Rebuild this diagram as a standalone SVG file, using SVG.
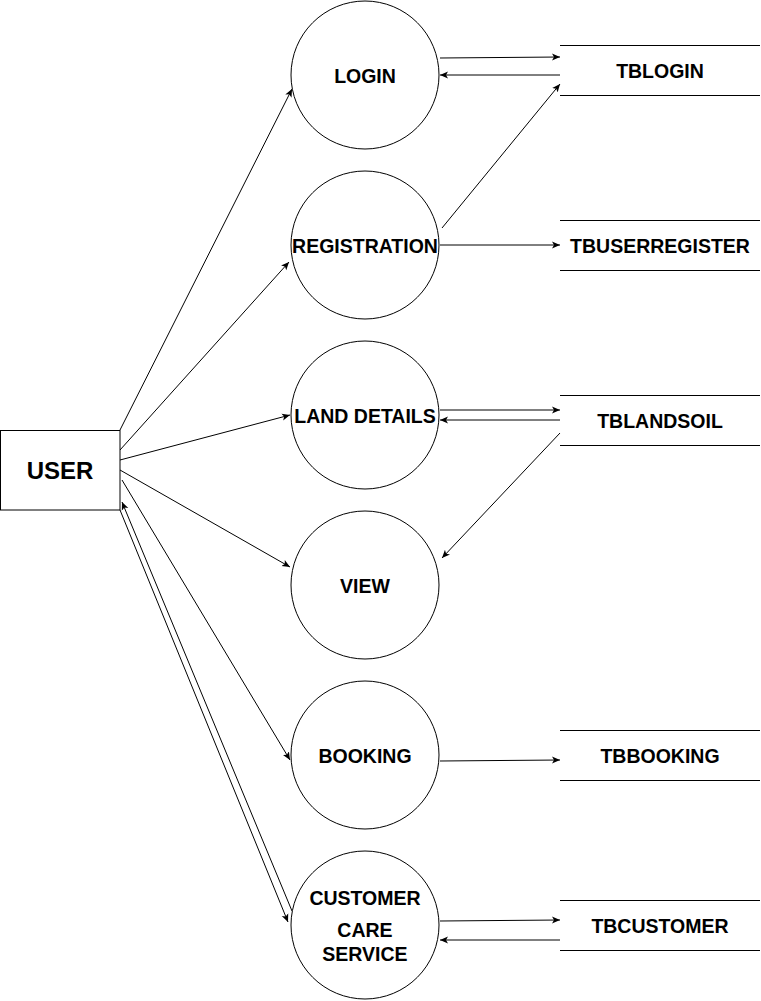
<svg xmlns="http://www.w3.org/2000/svg" width="761" height="1001" viewBox="0 0 761 1001">
<style>
.c{fill:#fff;stroke:#000;stroke-width:1}
.t{font-family:"Liberation Sans",Arial,sans-serif;font-weight:bold;font-size:19.5px;text-anchor:middle;fill:#000}
.e{fill:none;stroke:#000;stroke-width:1;marker-end:url(#a)}
.tb{stroke:#000;stroke-width:1}
</style>
<defs>
<marker id="a" markerWidth="9" markerHeight="8" refX="8" refY="4" orient="auto" markerUnits="userSpaceOnUse">
<path d="M0,0.5 L8,4 L0,7.5 L2,4 Z" fill="#000"/>
</marker>
</defs>
<rect width="761" height="1001" fill="#fff"/>
<g id="connectors">
<line class="e" x1="120" y1="430" x2="292" y2="89"/>
<line class="e" x1="120" y1="450" x2="289" y2="262"/>
<line class="e" x1="120" y1="460" x2="290" y2="415"/>
<line class="e" x1="120" y1="470" x2="290" y2="567"/>
<line class="e" x1="122" y1="480" x2="290" y2="760"/>
<line class="e" x1="120" y1="510" x2="288" y2="922"/>
<line class="e" x1="292" y1="911" x2="122" y2="502"/>
<line class="e" x1="440" y1="58" x2="560" y2="57"/>
<line class="e" x1="560" y1="75" x2="440" y2="75"/>
<line class="e" x1="442" y1="228" x2="560" y2="84"/>
<line class="e" x1="440" y1="245" x2="560" y2="245"/>
<line class="e" x1="440" y1="410" x2="560" y2="410"/>
<line class="e" x1="560" y1="420" x2="440" y2="420"/>
<line class="e" x1="560" y1="433" x2="442" y2="558"/>
<line class="e" x1="440" y1="761" x2="560" y2="760"/>
<line class="e" x1="440" y1="921" x2="560" y2="920"/>
<line class="e" x1="560" y1="940" x2="440" y2="940"/>
</g>
<g id="user">
<rect x="0.5" y="430.5" width="119.5" height="79.5" fill="#fff" stroke="#000"/>
<text class="t" x="60" y="479" style="font-size:24px">USER</text>
</g>
<g id="login">
<circle class="c" cx="365" cy="75" r="74"/>
<text class="t" x="365" y="83">LOGIN</text>
</g>
<g id="registration">
<circle class="c" cx="365" cy="245" r="74"/>
<text class="t" x="365" y="253">REGISTRATION</text>
</g>
<g id="landdetails">
<circle class="c" cx="365" cy="415" r="74"/>
<text class="t" x="365" y="423">LAND DETAILS</text>
</g>
<g id="view">
<circle class="c" cx="365" cy="585" r="74"/>
<text class="t" x="365" y="593">VIEW</text>
</g>
<g id="booking">
<circle class="c" cx="365" cy="755" r="74"/>
<text class="t" x="365" y="763">BOOKING</text>
</g>
<g id="customercare">
<circle class="c" cx="365" cy="925" r="74"/>
<text class="t" x="365" y="905">CUSTOMER</text>
<text class="t" x="365" y="937">CARE</text>
<text class="t" x="365" y="961">SERVICE</text>
</g>
<g id="tblogin">
<line class="tb" x1="560" y1="45.5" x2="760" y2="45.5"/>
<line class="tb" x1="560" y1="95.5" x2="760" y2="95.5"/>
<text class="t" x="660" y="78">TBLOGIN</text>
</g>
<g id="tbuserregister">
<line class="tb" x1="560" y1="220.5" x2="760" y2="220.5"/>
<line class="tb" x1="560" y1="270.5" x2="760" y2="270.5"/>
<text class="t" x="660" y="253">TBUSERREGISTER</text>
</g>
<g id="tblandsoil">
<line class="tb" x1="560" y1="395.5" x2="760" y2="395.5"/>
<line class="tb" x1="560" y1="445.5" x2="760" y2="445.5"/>
<text class="t" x="660" y="428">TBLANDSOIL</text>
</g>
<g id="tbbooking">
<line class="tb" x1="560" y1="730.5" x2="760" y2="730.5"/>
<line class="tb" x1="560" y1="780.5" x2="760" y2="780.5"/>
<text class="t" x="660" y="763">TBBOOKING</text>
</g>
<g id="tbcustomer">
<line class="tb" x1="560" y1="900.5" x2="760" y2="900.5"/>
<line class="tb" x1="560" y1="950.5" x2="760" y2="950.5"/>
<text class="t" x="660" y="933">TBCUSTOMER</text>
</g>
</svg>
